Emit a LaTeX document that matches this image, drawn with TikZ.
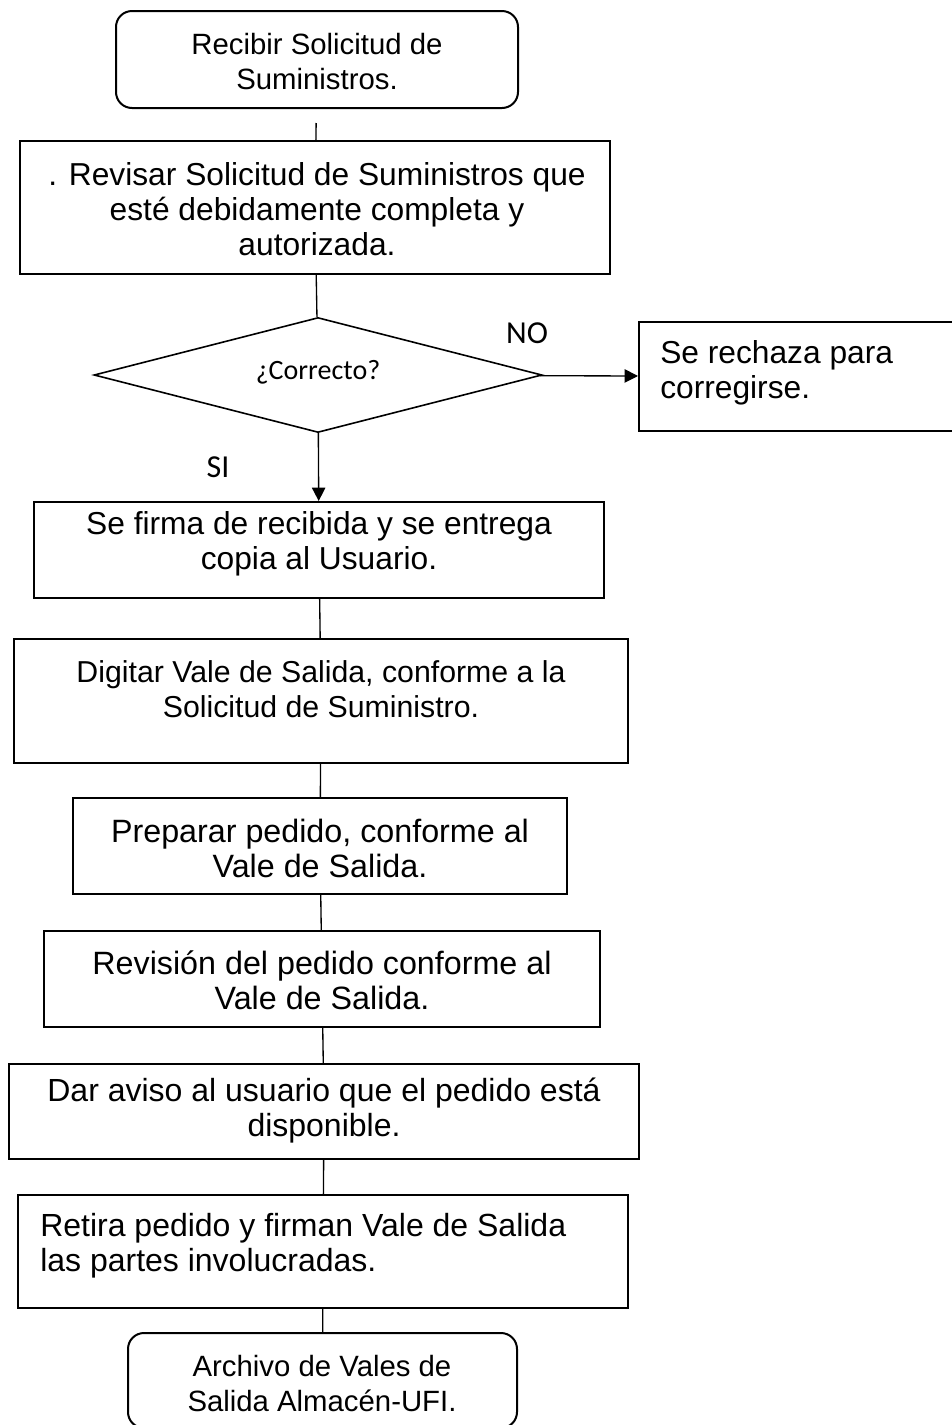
\documentclass[tikz,border=0pt]{standalone}
\usepackage{fontspec}
\setmainfont{Liberation Sans}
\newfontfamily\calib{Carlito}
\usetikzlibrary{shapes.geometric,arrows.meta}
\tikzset{
  boxstyle/.style={draw, line width=1.5pt, inner sep=0pt},
  termstyle/.style={boxstyle, rounded corners=12pt},
  txt/.style={align=center, inner sep=0pt, font=\fontsize{#1}{26.25}\selectfont},
  txt/.default=22,
  txtleft/.style={txt=#1, align=left, anchor=west},
  lbl/.style={inner sep=0pt, font=\calib\fontsize{#1}{26}\selectfont},
  lbl/.default=24,
  link/.style={line width=1pt},
  arrowlink/.style={link, -{Triangle[length=10pt,width=10pt]}}
}
\begin{document}
\begin{tikzpicture}[x=0.75pt, y=-0.75pt]
    \useasboundingbox (0,0) rectangle (951,1425);
    % boxes
    \node[termstyle, minimum width=301.5pt, minimum height=72.75pt] (start) at (317,59.5) {};
    \node[boxstyle, minimum width=442.5pt, minimum height=99.75pt] (rev) at (315,207.5) {};
    \node[diamond, draw, line width=1.2pt, inner sep=0pt, minimum width=336pt, minimum height=86.25pt] (dec) at (318,375) {};
    \node[boxstyle, minimum width=244.5pt, minimum height=81.75pt] (rej) at (802,376.5) {};
    \node[boxstyle, minimum width=427.5pt, minimum height=72pt] (firma) at (319,550) {};
    \node[boxstyle, minimum width=460.5pt, minimum height=93pt] (dig) at (321,701) {};
    \node[boxstyle, minimum width=370.5pt, minimum height=72pt] (prep) at (320,846) {};
    \node[boxstyle, minimum width=417pt, minimum height=72pt] (revi) at (322,979) {};
    \node[boxstyle, minimum width=472.5pt, minimum height=71.25pt] (aviso) at (324,1111.5) {};
    \node[boxstyle, minimum width=457.5pt, minimum height=84.75pt] (retira) at (323,1251.5) {};
    \node[termstyle, minimum width=291.75pt, minimum height=71.25pt] (end) at (322.5,1380.5) {};
    % texts
    \node[txt] (startt) at (317,62) {Recibir Solicitud de\\Suministros.};
    \node[txt=23.8] (revt) at (317,209) {. Revisar Solicitud de Suministros que\\est\'e debidamente completa y\\autorizada.};
    \node[lbl=21] (dect) at (318,372) {¿Correcto?};
    \node[txtleft=23.8] (rejt) at (660,372.5) {Se rechaza para\\corregirse.};
    \node[txt=23.8] (firmat) at (319,543.5) {Se firma de recibida y se entrega\\copia al Usuario.};
    \node[txt=22.7] (digt) at (321,689) {Digitar Vale de Salida, conforme a la\\Solicitud de Suministro.};
    \node[txt=24.2] (prept) at (320,848.5) {Preparar pedido, conforme al\\Vale de Salida.};
    \node[txt=24.2] (revit) at (322,980) {Revisión del pedido conforme al\\Vale de Salida.};
    \node[txt=24] (avisot) at (324,1111) {Dar aviso al usuario que el pedido está\\disponible.};
    \node[txtleft=24] (retirat) at (40,1245.5) {Retira pedido y firman Vale de Salida\\las partes involucradas.};
    \node[txt] (endt) at (322,1383.5) {Archivo de Vales de\\Salida Almacén-UFI.};
    \node[lbl] (no) at (527,333) {NO};
    \node[lbl] (si) at (218,467) {SI};
    % links
    \draw[link, shorten <=10.5pt] (start) -- (rev);
    \draw[link] (rev) -- (dec);
    \draw[arrowlink] (dec) -- (rej);
    \draw[arrowlink] (dec) -- (firma);
    \draw[link] (firma) -- (dig);
    \draw[link] (dig) -- (prep);
    \draw[link] (prep) -- (revi);
    \draw[link] (revi) -- (aviso);
    \draw[link] (aviso) -- (retira);
    \draw[link] (retira) -- (end);
\end{tikzpicture}
\end{document}
